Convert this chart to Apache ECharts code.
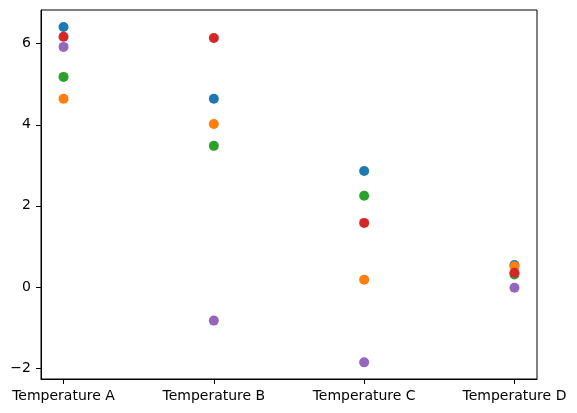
<!DOCTYPE html>
<html>
<head>
<meta charset="utf-8">
<script src="https://cdn.jsdelivr.net/npm/echarts@6/dist/echarts.min.js"></script>
<style>
  html, body { margin: 0; padding: 0; background: #fff; }
  #chart { width: 577px; height: 413px; }
</style>
</head>
<body>
<div id="chart"></div>
<script>
const categories = ['Temperature A', 'Temperature B', 'Temperature C', 'Temperature D']
const yTicks = [-2, 0, 2, 4, 6]

// one value per category, one array per colour
const series1 = [6.41, 4.64, 2.86, 0.54]
const series2 = [4.64, 4.02, 0.18, 0.51]
const series3 = [5.18, 3.48, 2.25, 0.31]
const series4 = [6.17, 6.14, 1.58, 0.35]
const series5 = [5.92, -0.83, -1.86, -0.02]

const colors = ['#1f77b4', '#ff7f0e', '#2ca02c', '#d62728', '#9467bd']
const allSeries = [series1, series2, series3, series4, series5]

const font = 'DejaVu Sans'
const chart = echarts.init(document.getElementById('chart'))

chart.setOption({
  animation: false,
  grid: {
    left: 41, right: 40, top: 10, bottom: 34,
    show: true, borderColor: '#000', borderWidth: 1
  },
  xAxis: {
    type: 'value',
    min: -0.15,
    max: 3.15,
    splitLine: { show: false },
    axisLine: { show: true, onZero: false, lineStyle: { color: '#000', width: 1 } },
    axisTick: { show: true, length: 5, customValues: [0, 1, 2, 3], lineStyle: { color: '#000' } },
    axisLabel: {
      customValues: [0, 1, 2, 3],
      color: '#000',
      fontFamily: font,
      fontSize: 14,
      margin: 10,
      formatter: (v) => categories[Math.round(v)]
    }
  },
  yAxis: {
    type: 'value',
    min: -2.27,
    max: 6.83,
    splitLine: { show: false },
    axisLine: { show: true, onZero: false, lineStyle: { color: '#000', width: 1 } },
    axisTick: { show: true, length: 5, customValues: yTicks, lineStyle: { color: '#000' } },
    axisLabel: {
      customValues: yTicks,
      color: '#000',
      fontFamily: font,
      fontSize: 14,
      margin: 10,
      formatter: (v) => (v < 0 ? '\u2212' + Math.abs(v) : String(v))
    }
  },
  series: allSeries.map((values, i) => ({
    type: 'scatter',
    symbolSize: 10,
    itemStyle: { color: colors[i], opacity: 1 },
    data: values.map((v, j) => [j, v])
  }))
})
</script>
</body>
</html>
